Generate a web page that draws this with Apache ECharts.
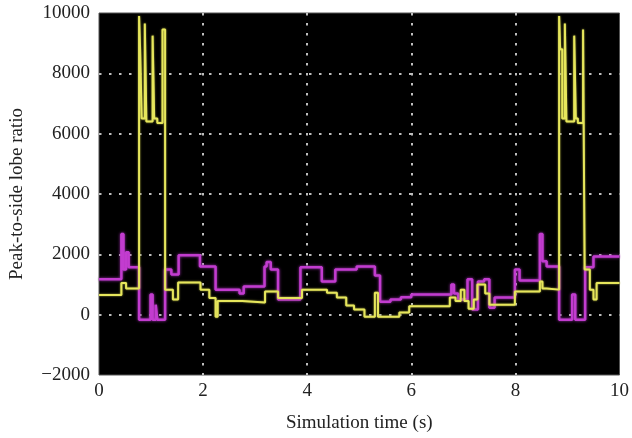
<!DOCTYPE html>
<html>
<head>
<meta charset="utf-8">
<script src="https://cdn.jsdelivr.net/npm/echarts@6/dist/echarts.min.js"></script>
<style>
  html, body { margin: 0; padding: 0; background: #fff; }
  #chart { width: 632px; height: 438px; }
</style>
</head>
<body>
<div id="chart"></div>
<script>
// step points: value holds from t[i] until t[i+1]
const yellowT = [0, 0.43, 0.52, 0.77, 0.79, 0.82, 0.88, 0.91, 1.03, 1.06, 1.12, 1.22, 1.27, 1.42, 1.52, 1.95, 2.12, 2.24, 2.28, 2.75, 3.19, 3.44, 3.9, 4.38, 4.57, 4.75, 4.9, 5.1, 5.3, 5.36, 5.77, 5.96, 6.74, 6.85, 6.95, 7.02, 7.1, 7.2, 7.27, 7.42, 7.5, 7.99, 8.47, 8.52, 8.6, 8.84, 8.86, 8.9, 8.95, 8.98, 9.13, 9.16, 9.2, 9.3, 9.33, 9.43, 9.5, 9.56, 10];
const yellowV = [650, 1050, 870, 9900, 8800, 6500, 9650, 6400, 9250, 6500, 6350, 9450, 830, 500, 1070, 830, 550, -70, 450, 400, 770, 550, 830, 730, 570, 300, 170, -70, 730, -70, 70, 280, 570, 450, 830, 450, 200, 500, 1000, 700, 330, 770, 1100, 870, 830, 9900, 8800, 6500, 9650, 6400, 9250, 6500, 6350, 9450, 1500, 830, 500, 1050, 1050];

const magentaT = [0, 0.43, 0.47, 0.52, 0.57, 0.77, 0.99, 1.03, 1.09, 1.12, 1.27, 1.39, 1.53, 1.94, 2.24, 2.7, 2.78, 3.18, 3.22, 3.3, 3.44, 3.87, 4.28, 4.54, 4.95, 5.3, 5.4, 5.6, 5.8, 6.0, 6.77, 6.82, 6.9, 7.08, 7.17, 7.28, 7.4, 7.5, 7.6, 7.99, 8.08, 8.47, 8.52, 8.6, 8.84, 9.09, 9.15, 9.34, 9.5, 10];
const magentaV = [1170, 2670, 1500, 2070, 1570, -170, 670, -170, 330, -170, 1500, 1330, 1970, 1600, 830, 700, 930, 1600, 1750, 1500, 500, 1570, 1100, 1500, 1600, 1300, 430, 500, 580, 670, 1000, 700, 500, 1170, 170, 1100, 1170, 230, 570, 1500, 1130, 2670, 1770, 1600, -170, 670, -170, 1570, 1930, 1930];

const xTicks = [0, 2, 4, 6, 8, 10];
const yTicks = [-2000, 0, 2000, 4000, 6000, 8000, 10000];

const pairs = (t, v) => t.map((x, i) => [x, v[i]]);
const dot = '#bdbdbd';
const serif = '"Liberation Serif", "DejaVu Serif", serif';

const myChart = echarts.init(document.getElementById('chart'));
myChart.setOption({
  animation: false,
  backgroundColor: '#fff',
  grid: {
    left: 94,
    right: 7,
    top: 13,
    bottom: 61,
    show: true,
    backgroundColor: '#000',
    borderColor: '#555',
    borderWidth: 1
  },
  xAxis: {
    type: 'value',
    min: xTicks[0],
    max: xTicks[xTicks.length - 1],
    interval: 2,
    name: 'Simulation time (s)',
    nameLocation: 'middle',
    nameGap: 39,
    nameTextStyle: { fontFamily: serif, fontSize: 19, color: '#222' },
    axisLine: { show: false },
    axisTick: { show: false },
    axisLabel: { fontFamily: serif, fontSize: 19, color: '#222', margin: 7 },
    splitLine: {
      show: true,
      // no line on the frame edges
      lineStyle: { color: ['transparent', dot, dot, dot, dot, 'transparent'], type: [2.5, 7.5], width: 2 }
    }
  },
  yAxis: {
    type: 'value',
    min: yTicks[0],
    max: yTicks[yTicks.length - 1],
    interval: 2000,
    name: 'Peak-to-side lobe ratio',
    nameLocation: 'middle',
    nameGap: 72,
    nameTextStyle: { fontFamily: serif, fontSize: 19, color: '#222' },
    axisLine: { show: false },
    axisTick: { show: false },
    axisLabel: {
      fontFamily: serif, fontSize: 19, color: '#222', margin: 9,
      formatter: (v) => (v < 0 ? '\u2212' + Math.abs(v) : String(v))
    },
    splitLine: {
      show: true,
      lineStyle: { color: ['transparent', dot, dot, dot, dot, dot, 'transparent'], type: [2.5, 7.5], width: 2 }
    }
  },
  series: [
    {
      name: 'magenta',
      type: 'line',
      step: 'end',
      showSymbol: false,
      data: pairs(magentaT, magentaV),
      lineStyle: { color: '#c23ccf', width: 2.5, shadowBlur: 3, shadowColor: '#a030b0' }
    },
    {
      name: 'yellow',
      type: 'line',
      step: 'end',
      showSymbol: false,
      data: pairs(yellowT, yellowV),
      lineStyle: { color: '#e6e65c', width: 2, shadowBlur: 2, shadowColor: '#b0b040' }
    }
  ]
});
</script>
</body>
</html>
